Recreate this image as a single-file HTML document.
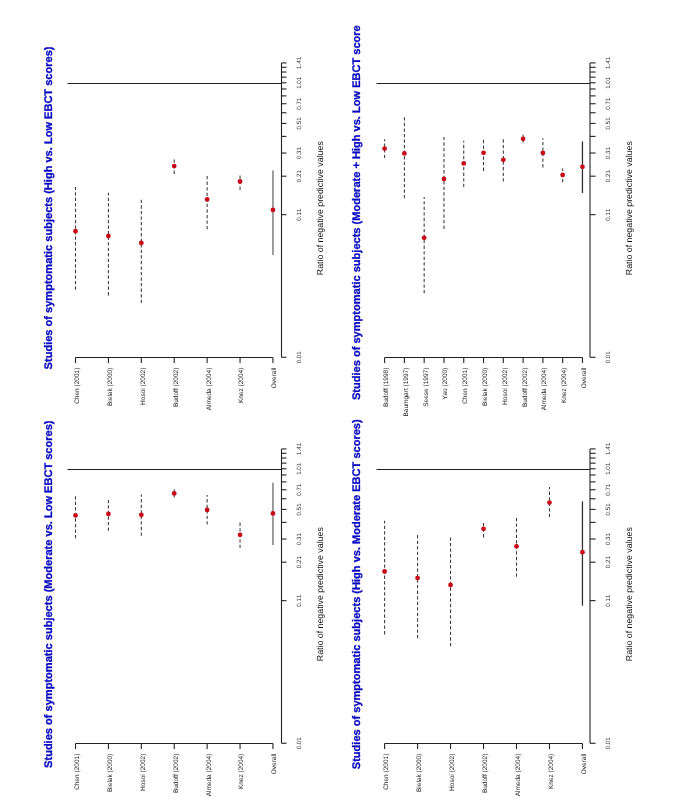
<!DOCTYPE html>
<html><head><meta charset="utf-8"><style>
html,body{margin:0;padding:0;background:#fff;}
svg{display:block;}
text{font-family:"Liberation Sans",sans-serif;text-rendering:geometricPrecision;font-kerning:none;}
.ax{stroke:#222;stroke-width:1.1;fill:none;}
.ci{stroke:#383838;stroke-width:1.05;stroke-dasharray:3.3 2.25;fill:none;}
.og{stroke:#999;stroke-width:1.9;}
.ob{stroke:#333;stroke-width:1.3;}
.pt{fill:#c80a18;}
.tk{font-size:6.2px;fill:#333;text-anchor:middle;}
.cl{font-size:6.5px;fill:#222;text-anchor:end;}
.al{font-size:8.8px;fill:#111;text-anchor:middle;}
.tt{font-size:11.05px;font-weight:bold;fill:#0808c0;stroke:#0808c0;stroke-width:0.3px;}
</style></head><body>
<svg width="685" height="810" viewBox="0 0 685 810">
<rect width="685" height="810" fill="#fff"/>
<g style="will-change:transform;filter:blur(0.3px)">
<line x1="281.5" y1="62.92" x2="281.5" y2="357.28" class="ax"/>
<line x1="281.5" y1="357.28" x2="286.5" y2="357.28" class="ax"/>
<line x1="281.5" y1="214.65" x2="286.5" y2="214.65" class="ax"/>
<line x1="281.5" y1="176.19" x2="286.5" y2="176.19" class="ax"/>
<line x1="281.5" y1="153.02" x2="286.5" y2="153.02" class="ax"/>
<line x1="281.5" y1="136.39" x2="286.5" y2="136.39" class="ax"/>
<line x1="281.5" y1="123.41" x2="286.5" y2="123.41" class="ax"/>
<line x1="281.5" y1="112.76" x2="286.5" y2="112.76" class="ax"/>
<line x1="281.5" y1="103.73" x2="286.5" y2="103.73" class="ax"/>
<line x1="281.5" y1="95.89" x2="286.5" y2="95.89" class="ax"/>
<line x1="281.5" y1="88.97" x2="286.5" y2="88.97" class="ax"/>
<line x1="281.5" y1="82.77" x2="286.5" y2="82.77" class="ax"/>
<line x1="281.5" y1="77.15" x2="286.5" y2="77.15" class="ax"/>
<line x1="281.5" y1="72.02" x2="286.5" y2="72.02" class="ax"/>
<line x1="281.5" y1="67.3" x2="286.5" y2="67.3" class="ax"/>
<line x1="281.5" y1="62.92" x2="286.5" y2="62.92" class="ax"/>
<text class="tk" transform="translate(301.2,357.28) rotate(-90)">0.01</text>
<text class="tk" transform="translate(301.2,214.65) rotate(-90)">0.11</text>
<text class="tk" transform="translate(301.2,176.19) rotate(-90)">0.21</text>
<text class="tk" transform="translate(301.2,153.02) rotate(-90)">0.31</text>
<text class="tk" transform="translate(301.2,123.41) rotate(-90)">0.51</text>
<text class="tk" transform="translate(301.2,103.73) rotate(-90)">0.71</text>
<text class="tk" transform="translate(301.2,82.77) rotate(-90)">1.01</text>
<text class="tk" transform="translate(301.2,62.92) rotate(-90)">1.41</text>
<line x1="67.5" y1="83.45" x2="281.5" y2="83.45" class="ax"/>
<line x1="75.5" y1="357.5" x2="272.95" y2="357.5" class="ax"/>
<line x1="75.5" y1="357.5" x2="75.5" y2="363.1" class="ax"/>
<text class="cl" transform="translate(78.9,367.7) rotate(-90)">Chen (2001)</text>
<line x1="75.5" y1="289.8" x2="75.5" y2="187" class="ci"/>
<circle cx="75.5" cy="231.2" r="2.4" class="pt"/>
<line x1="108.41" y1="357.5" x2="108.41" y2="363.1" class="ax"/>
<text class="cl" transform="translate(111.81,367.7) rotate(-90)">Bielak (2000)</text>
<line x1="108.41" y1="295.4" x2="108.41" y2="192.8" class="ci"/>
<circle cx="108.41" cy="236" r="2.4" class="pt"/>
<line x1="141.32" y1="357.5" x2="141.32" y2="363.1" class="ax"/>
<text class="cl" transform="translate(144.72,367.7) rotate(-90)">Hosoi (2002)</text>
<line x1="141.32" y1="303" x2="141.32" y2="199.4" class="ci"/>
<circle cx="141.32" cy="243" r="2.4" class="pt"/>
<line x1="174.22" y1="357.5" x2="174.22" y2="363.1" class="ax"/>
<text class="cl" transform="translate(177.62,367.7) rotate(-90)">Budoff (2002)</text>
<line x1="174.22" y1="173.9" x2="174.22" y2="159" class="ci"/>
<circle cx="174.22" cy="166.1" r="2.4" class="pt"/>
<line x1="207.13" y1="357.5" x2="207.13" y2="363.1" class="ax"/>
<text class="cl" transform="translate(210.53,367.7) rotate(-90)">Almeda (2004)</text>
<line x1="207.13" y1="229.3" x2="207.13" y2="176.1" class="ci"/>
<circle cx="207.13" cy="199.4" r="2.4" class="pt"/>
<line x1="240.04" y1="357.5" x2="240.04" y2="363.1" class="ax"/>
<text class="cl" transform="translate(243.44,367.7) rotate(-90)">Knez (2004)</text>
<line x1="240.04" y1="189.9" x2="240.04" y2="175" class="ci"/>
<circle cx="240.04" cy="181.5" r="2.4" class="pt"/>
<line x1="272.95" y1="357.5" x2="272.95" y2="363.1" class="ax"/>
<text class="cl" transform="translate(276.35,367.7) rotate(-90)">Overall</text>
<line x1="272.95" y1="170.5" x2="272.95" y2="254.9" class="og"/>
<circle cx="272.95" cy="209.9" r="2.4" class="pt"/>
<text class="tt" text-anchor="middle" transform="translate(52,207.95) rotate(-90)">Studies of symptomatic subjects (High vs. Low EBCT scores)</text>
<text class="al" transform="translate(322.6,208.2) rotate(-90)">Ratio of negative predictive values</text>
<line x1="590" y1="62.92" x2="590" y2="357.28" class="ax"/>
<line x1="590" y1="357.28" x2="595.6" y2="357.28" class="ax"/>
<line x1="590" y1="214.65" x2="595.6" y2="214.65" class="ax"/>
<line x1="590" y1="176.19" x2="595.6" y2="176.19" class="ax"/>
<line x1="590" y1="153.02" x2="595.6" y2="153.02" class="ax"/>
<line x1="590" y1="136.39" x2="595.6" y2="136.39" class="ax"/>
<line x1="590" y1="123.41" x2="595.6" y2="123.41" class="ax"/>
<line x1="590" y1="112.76" x2="595.6" y2="112.76" class="ax"/>
<line x1="590" y1="103.73" x2="595.6" y2="103.73" class="ax"/>
<line x1="590" y1="95.89" x2="595.6" y2="95.89" class="ax"/>
<line x1="590" y1="88.97" x2="595.6" y2="88.97" class="ax"/>
<line x1="590" y1="82.77" x2="595.6" y2="82.77" class="ax"/>
<line x1="590" y1="77.15" x2="595.6" y2="77.15" class="ax"/>
<line x1="590" y1="72.02" x2="595.6" y2="72.02" class="ax"/>
<line x1="590" y1="67.3" x2="595.6" y2="67.3" class="ax"/>
<line x1="590" y1="62.92" x2="595.6" y2="62.92" class="ax"/>
<text class="tk" transform="translate(609.7,357.28) rotate(-90)">0.01</text>
<text class="tk" transform="translate(609.7,214.65) rotate(-90)">0.11</text>
<text class="tk" transform="translate(609.7,176.19) rotate(-90)">0.21</text>
<text class="tk" transform="translate(609.7,153.02) rotate(-90)">0.31</text>
<text class="tk" transform="translate(609.7,123.41) rotate(-90)">0.51</text>
<text class="tk" transform="translate(609.7,103.73) rotate(-90)">0.71</text>
<text class="tk" transform="translate(609.7,82.77) rotate(-90)">1.01</text>
<text class="tk" transform="translate(609.7,62.92) rotate(-90)">1.41</text>
<line x1="376.5" y1="83.45" x2="590" y2="83.45" class="ax"/>
<line x1="384.6" y1="357.5" x2="582.45" y2="357.5" class="ax"/>
<line x1="384.6" y1="357.5" x2="384.6" y2="363.1" class="ax"/>
<text class="cl" transform="translate(388,367.7) rotate(-90)">Budoff (1998)</text>
<line x1="384.6" y1="158" x2="384.6" y2="139.2" class="ci"/>
<circle cx="384.6" cy="148.6" r="2.4" class="pt"/>
<line x1="404.39" y1="357.5" x2="404.39" y2="363.1" class="ax"/>
<text class="cl" transform="translate(407.79,367.7) rotate(-90)">Baumgart (1997)</text>
<line x1="404.39" y1="198.3" x2="404.39" y2="116.9" class="ci"/>
<circle cx="404.39" cy="153.4" r="2.4" class="pt"/>
<line x1="424.17" y1="357.5" x2="424.17" y2="363.1" class="ax"/>
<text class="cl" transform="translate(427.57,367.7) rotate(-90)">Seese (1997)</text>
<line x1="424.17" y1="293.3" x2="424.17" y2="197" class="ci"/>
<circle cx="424.17" cy="237.8" r="2.4" class="pt"/>
<line x1="443.96" y1="357.5" x2="443.96" y2="363.1" class="ax"/>
<text class="cl" transform="translate(447.36,367.7) rotate(-90)">Yao (2000)</text>
<line x1="443.96" y1="228.9" x2="443.96" y2="137" class="ci"/>
<circle cx="443.96" cy="179" r="2.4" class="pt"/>
<line x1="463.74" y1="357.5" x2="463.74" y2="363.1" class="ax"/>
<text class="cl" transform="translate(467.14,367.7) rotate(-90)">Chen (2001)</text>
<line x1="463.74" y1="187" x2="463.74" y2="140.7" class="ci"/>
<circle cx="463.74" cy="163.4" r="2.4" class="pt"/>
<line x1="483.53" y1="357.5" x2="483.53" y2="363.1" class="ax"/>
<text class="cl" transform="translate(486.93,367.7) rotate(-90)">Bielak (2000)</text>
<line x1="483.53" y1="170.9" x2="483.53" y2="139" class="ci"/>
<circle cx="483.53" cy="152.8" r="2.4" class="pt"/>
<line x1="503.31" y1="357.5" x2="503.31" y2="363.1" class="ax"/>
<text class="cl" transform="translate(506.71,367.7) rotate(-90)">Hosoi (2002)</text>
<line x1="503.31" y1="181.5" x2="503.31" y2="139" class="ci"/>
<circle cx="503.31" cy="159.8" r="2.4" class="pt"/>
<line x1="523.1" y1="357.5" x2="523.1" y2="363.1" class="ax"/>
<text class="cl" transform="translate(526.5,367.7) rotate(-90)">Budoff (2002)</text>
<line x1="523.1" y1="142.5" x2="523.1" y2="134.7" class="ci"/>
<circle cx="523.1" cy="138.8" r="2.4" class="pt"/>
<line x1="542.88" y1="357.5" x2="542.88" y2="363.1" class="ax"/>
<text class="cl" transform="translate(546.28,367.7) rotate(-90)">Almeda (2004)</text>
<line x1="542.88" y1="167.4" x2="542.88" y2="138.2" class="ci"/>
<circle cx="542.88" cy="152.9" r="2.4" class="pt"/>
<line x1="562.66" y1="357.5" x2="562.66" y2="363.1" class="ax"/>
<text class="cl" transform="translate(566.06,367.7) rotate(-90)">Knez (2004)</text>
<line x1="562.66" y1="182.2" x2="562.66" y2="168.5" class="ci"/>
<circle cx="562.66" cy="175" r="2.4" class="pt"/>
<line x1="582.45" y1="357.5" x2="582.45" y2="363.1" class="ax"/>
<text class="cl" transform="translate(585.85,367.7) rotate(-90)">Overall</text>
<line x1="582.45" y1="141.5" x2="582.45" y2="193" class="ob"/>
<circle cx="582.45" cy="166.8" r="2.4" class="pt"/>
<text class="tt" text-anchor="start" transform="translate(360.2,400) rotate(-90)">Studies of symptomatic subjects (Moderate + High vs. Low EBCT score</text>
<text class="al" transform="translate(631.6,208.2) rotate(-90)">Ratio of negative predictive values</text>
<line x1="281.5" y1="448.92" x2="281.5" y2="743.28" class="ax"/>
<line x1="281.5" y1="743.28" x2="286.5" y2="743.28" class="ax"/>
<line x1="281.5" y1="600.65" x2="286.5" y2="600.65" class="ax"/>
<line x1="281.5" y1="562.19" x2="286.5" y2="562.19" class="ax"/>
<line x1="281.5" y1="539.02" x2="286.5" y2="539.02" class="ax"/>
<line x1="281.5" y1="522.39" x2="286.5" y2="522.39" class="ax"/>
<line x1="281.5" y1="509.41" x2="286.5" y2="509.41" class="ax"/>
<line x1="281.5" y1="498.76" x2="286.5" y2="498.76" class="ax"/>
<line x1="281.5" y1="489.73" x2="286.5" y2="489.73" class="ax"/>
<line x1="281.5" y1="481.89" x2="286.5" y2="481.89" class="ax"/>
<line x1="281.5" y1="474.97" x2="286.5" y2="474.97" class="ax"/>
<line x1="281.5" y1="468.77" x2="286.5" y2="468.77" class="ax"/>
<line x1="281.5" y1="463.15" x2="286.5" y2="463.15" class="ax"/>
<line x1="281.5" y1="458.02" x2="286.5" y2="458.02" class="ax"/>
<line x1="281.5" y1="453.3" x2="286.5" y2="453.3" class="ax"/>
<line x1="281.5" y1="448.92" x2="286.5" y2="448.92" class="ax"/>
<text class="tk" transform="translate(301.2,743.28) rotate(-90)">0.01</text>
<text class="tk" transform="translate(301.2,600.65) rotate(-90)">0.11</text>
<text class="tk" transform="translate(301.2,562.19) rotate(-90)">0.21</text>
<text class="tk" transform="translate(301.2,539.02) rotate(-90)">0.31</text>
<text class="tk" transform="translate(301.2,509.41) rotate(-90)">0.51</text>
<text class="tk" transform="translate(301.2,489.73) rotate(-90)">0.71</text>
<text class="tk" transform="translate(301.2,468.77) rotate(-90)">1.01</text>
<text class="tk" transform="translate(301.2,448.92) rotate(-90)">1.41</text>
<line x1="67.5" y1="469.45" x2="281.5" y2="469.45" class="ax"/>
<line x1="75.5" y1="743.5" x2="272.95" y2="743.5" class="ax"/>
<line x1="75.5" y1="743.5" x2="75.5" y2="749.1" class="ax"/>
<text class="cl" transform="translate(78.9,753.7) rotate(-90)">Chen (2001)</text>
<line x1="75.5" y1="538.3" x2="75.5" y2="496" class="ci"/>
<circle cx="75.5" cy="515.4" r="2.4" class="pt"/>
<line x1="108.41" y1="743.5" x2="108.41" y2="749.1" class="ax"/>
<text class="cl" transform="translate(111.81,753.7) rotate(-90)">Bielak (2000)</text>
<line x1="108.41" y1="530.8" x2="108.41" y2="500.1" class="ci"/>
<circle cx="108.41" cy="514" r="2.4" class="pt"/>
<line x1="141.32" y1="743.5" x2="141.32" y2="749.1" class="ax"/>
<text class="cl" transform="translate(144.72,753.7) rotate(-90)">Hosoi (2002)</text>
<line x1="141.32" y1="535.7" x2="141.32" y2="494.4" class="ci"/>
<circle cx="141.32" cy="514.8" r="2.4" class="pt"/>
<line x1="174.22" y1="743.5" x2="174.22" y2="749.1" class="ax"/>
<text class="cl" transform="translate(177.62,753.7) rotate(-90)">Budoff (2002)</text>
<line x1="174.22" y1="497.4" x2="174.22" y2="489.3" class="ci"/>
<circle cx="174.22" cy="493.4" r="2.4" class="pt"/>
<line x1="207.13" y1="743.5" x2="207.13" y2="749.1" class="ax"/>
<text class="cl" transform="translate(210.53,753.7) rotate(-90)">Almeda (2004)</text>
<line x1="207.13" y1="524.6" x2="207.13" y2="495" class="ci"/>
<circle cx="207.13" cy="509.9" r="2.4" class="pt"/>
<line x1="240.04" y1="743.5" x2="240.04" y2="749.1" class="ax"/>
<text class="cl" transform="translate(243.44,753.7) rotate(-90)">Knez (2004)</text>
<line x1="240.04" y1="548.1" x2="240.04" y2="522.6" class="ci"/>
<circle cx="240.04" cy="534.8" r="2.4" class="pt"/>
<line x1="272.95" y1="743.5" x2="272.95" y2="749.1" class="ax"/>
<text class="cl" transform="translate(276.35,753.7) rotate(-90)">Overall</text>
<line x1="272.95" y1="482.7" x2="272.95" y2="545.1" class="og"/>
<circle cx="272.95" cy="513.4" r="2.4" class="pt"/>
<text class="tt" text-anchor="middle" transform="translate(52,594.2) rotate(-90)">Studies of symptomatic subjects (Moderate vs. Low EBCT scores)</text>
<text class="al" transform="translate(322.6,594.2) rotate(-90)">Ratio of negative predictive values</text>
<line x1="590" y1="448.92" x2="590" y2="743.28" class="ax"/>
<line x1="590" y1="743.28" x2="595.6" y2="743.28" class="ax"/>
<line x1="590" y1="600.65" x2="595.6" y2="600.65" class="ax"/>
<line x1="590" y1="562.19" x2="595.6" y2="562.19" class="ax"/>
<line x1="590" y1="539.02" x2="595.6" y2="539.02" class="ax"/>
<line x1="590" y1="522.39" x2="595.6" y2="522.39" class="ax"/>
<line x1="590" y1="509.41" x2="595.6" y2="509.41" class="ax"/>
<line x1="590" y1="498.76" x2="595.6" y2="498.76" class="ax"/>
<line x1="590" y1="489.73" x2="595.6" y2="489.73" class="ax"/>
<line x1="590" y1="481.89" x2="595.6" y2="481.89" class="ax"/>
<line x1="590" y1="474.97" x2="595.6" y2="474.97" class="ax"/>
<line x1="590" y1="468.77" x2="595.6" y2="468.77" class="ax"/>
<line x1="590" y1="463.15" x2="595.6" y2="463.15" class="ax"/>
<line x1="590" y1="458.02" x2="595.6" y2="458.02" class="ax"/>
<line x1="590" y1="453.3" x2="595.6" y2="453.3" class="ax"/>
<line x1="590" y1="448.92" x2="595.6" y2="448.92" class="ax"/>
<text class="tk" transform="translate(609.7,743.28) rotate(-90)">0.01</text>
<text class="tk" transform="translate(609.7,600.65) rotate(-90)">0.11</text>
<text class="tk" transform="translate(609.7,562.19) rotate(-90)">0.21</text>
<text class="tk" transform="translate(609.7,539.02) rotate(-90)">0.31</text>
<text class="tk" transform="translate(609.7,509.41) rotate(-90)">0.51</text>
<text class="tk" transform="translate(609.7,489.73) rotate(-90)">0.71</text>
<text class="tk" transform="translate(609.7,468.77) rotate(-90)">1.01</text>
<text class="tk" transform="translate(609.7,448.92) rotate(-90)">1.41</text>
<line x1="376.5" y1="469.45" x2="590" y2="469.45" class="ax"/>
<line x1="384.6" y1="743.5" x2="582.45" y2="743.5" class="ax"/>
<line x1="384.6" y1="743.5" x2="384.6" y2="749.1" class="ax"/>
<text class="cl" transform="translate(388,753.7) rotate(-90)">Chen (2001)</text>
<line x1="384.6" y1="634.4" x2="384.6" y2="520.8" class="ci"/>
<circle cx="384.6" cy="571.5" r="2.4" class="pt"/>
<line x1="417.58" y1="743.5" x2="417.58" y2="749.1" class="ax"/>
<text class="cl" transform="translate(420.98,753.7) rotate(-90)">Bielak (2000)</text>
<line x1="417.58" y1="638.3" x2="417.58" y2="534.2" class="ci"/>
<circle cx="417.58" cy="578.1" r="2.4" class="pt"/>
<line x1="450.55" y1="743.5" x2="450.55" y2="749.1" class="ax"/>
<text class="cl" transform="translate(453.95,753.7) rotate(-90)">Hosoi (2002)</text>
<line x1="450.55" y1="646.2" x2="450.55" y2="536.6" class="ci"/>
<circle cx="450.55" cy="585" r="2.4" class="pt"/>
<line x1="483.53" y1="743.5" x2="483.53" y2="749.1" class="ax"/>
<text class="cl" transform="translate(486.93,753.7) rotate(-90)">Budoff (2002)</text>
<line x1="483.53" y1="537.4" x2="483.53" y2="522.2" class="ci"/>
<circle cx="483.53" cy="528.8" r="2.4" class="pt"/>
<line x1="516.5" y1="743.5" x2="516.5" y2="749.1" class="ax"/>
<text class="cl" transform="translate(519.9,753.7) rotate(-90)">Almeda (2004)</text>
<line x1="516.5" y1="576.8" x2="516.5" y2="517.8" class="ci"/>
<circle cx="516.5" cy="546.3" r="2.4" class="pt"/>
<line x1="549.48" y1="743.5" x2="549.48" y2="749.1" class="ax"/>
<text class="cl" transform="translate(552.88,753.7) rotate(-90)">Knez (2004)</text>
<line x1="549.48" y1="517.1" x2="549.48" y2="487.1" class="ci"/>
<circle cx="549.48" cy="502.6" r="2.4" class="pt"/>
<line x1="582.45" y1="743.5" x2="582.45" y2="749.1" class="ax"/>
<text class="cl" transform="translate(585.85,753.7) rotate(-90)">Overall</text>
<line x1="582.45" y1="501.3" x2="582.45" y2="605.7" class="ob"/>
<circle cx="582.45" cy="552.2" r="2.4" class="pt"/>
<text class="tt" text-anchor="middle" transform="translate(360.2,594.25) rotate(-90)">Studies of symptomatic subjects (High vs. Moderate EBCT scores)</text>
<text class="al" transform="translate(631.6,594.2) rotate(-90)">Ratio of negative predictive values</text>
</g>
</svg>
</body></html>
